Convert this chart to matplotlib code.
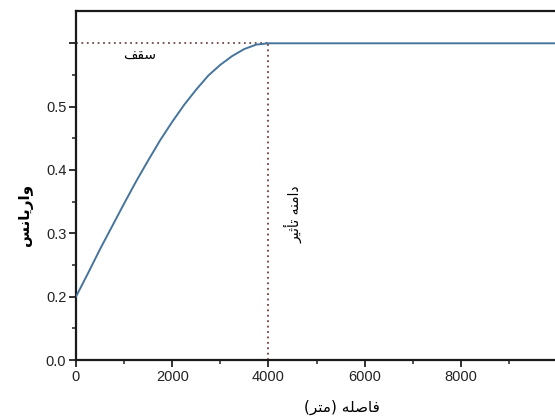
import numpy as np
import matplotlib
matplotlib.use("Agg")
import matplotlib.pyplot as plt

# variogram
distance = [0, 250, 500, 750, 1000, 1250, 1500, 1750, 2000, 2250, 2500,
            2750, 3000, 3250, 3500, 3750, 4000, 10000]
variance = [0.200, 0.237, 0.275, 0.311, 0.347, 0.382, 0.415, 0.447, 0.476,
            0.503, 0.527, 0.549, 0.566, 0.580, 0.591, 0.598, 0.600, 0.600]
sill = 0.6
effect_range = 4000

x_ticks = [0, 2000, 4000, 6000, 8000]
y_ticks = [0.0, 0.2, 0.3, 0.4, 0.5, 0.6]
y_tick_labels = ["0.0", "0.2", "0.3", "0.4", "0.5", ""]

# Arabic text pre-shaped (presentation forms, visual order)
label_sill = "\uFED2\uFED8\uFEB3"                                   # سقف
label_range = "\uFEAE\uFBFF\uFE9B\uFE84\uFE97 \uFEEA\uFEE8\uFEE3\uFE8D\uFEA9"  # دامنه تأثیر
label_y = "\uFEB2\uFEE7\uFE8E\uFBFE\uFEAD\uFE8D\uFEED"               # واریانس
label_x = "(\uFEAE\uFE98\uFEE3) \uFEEA\uFEE0\uFEBB\uFE8E\uFED3"      # فاصله (متر)

plt.rcParams["font.family"] = ["Liberation Sans", "DejaVu Sans"]

fig = plt.figure(figsize=(5.55, 4.17), dpi=100)
ax = fig.add_axes([76 / 555, 57 / 417, 481 / 555, 349 / 417])

# the lower part of the y axis (0 - 0.2) is drawn at half scale
def fwd(y):
    y = np.asarray(y, dtype=float)
    return np.where(y < 0.2, 0.1 + y / 2, y)

def inv(v):
    v = np.asarray(v, dtype=float)
    return np.where(v < 0.2, (v - 0.1) * 2, v)

ax.set_yscale("function", functions=(fwd, inv))

ax.plot(distance, variance, color="#46749c", linewidth=1.4, zorder=3)
ax.plot([0, effect_range], [sill, sill], linestyle=(0, (1, 2)),
        color="#6e4a4a", linewidth=1.3, clip_on=False, zorder=2)
ax.plot([effect_range, effect_range], [0, sill], linestyle=(0, (1, 2)),
        color="#7a3c3c", linewidth=1.3, zorder=2)

ax.set_xlim(0, 10000)
ax.set_ylim(0, 0.651)
ax.set_xticks(x_ticks)
ax.set_xticks([1000, 3000, 5000, 7000, 9000], minor=True)
ax.set_yticks(y_ticks)
ax.set_yticklabels(y_tick_labels)
ax.set_yticks([0.1, 0.25, 0.35, 0.45, 0.55], minor=True)

ax.tick_params(axis="both", which="major", direction="out", length=5,
               width=1.3, labelsize=10.5, colors="#222222", pad=2)
ax.tick_params(axis="both", which="minor", direction="out", length=3,
               width=1.1, colors="#222222")
for side in ["left", "bottom", "top"]:
    ax.spines[side].set_linewidth(1.6)
    ax.spines[side].set_color("#1a1a1a")
ax.spines["right"].set_visible(False)

ax.text(1330, 0.5815, label_sill, family="DejaVu Sans", fontsize=10,
        ha="center", va="center")
ax.text(4511, 0.33, label_range, family="DejaVu Sans", fontsize=10,
        rotation=90, ha="center", va="center")

fig.text(25 / 555, 1 - 215 / 417, label_y, family="DejaVu Sans",
         fontsize=11, fontweight="bold", rotation=90, ha="center", va="center")
fig.text(342 / 555, 1 - 407 / 417, label_x, family="DejaVu Sans",
         fontsize=11, ha="center", va="center")

fig.savefig("out.png", dpi=100)
